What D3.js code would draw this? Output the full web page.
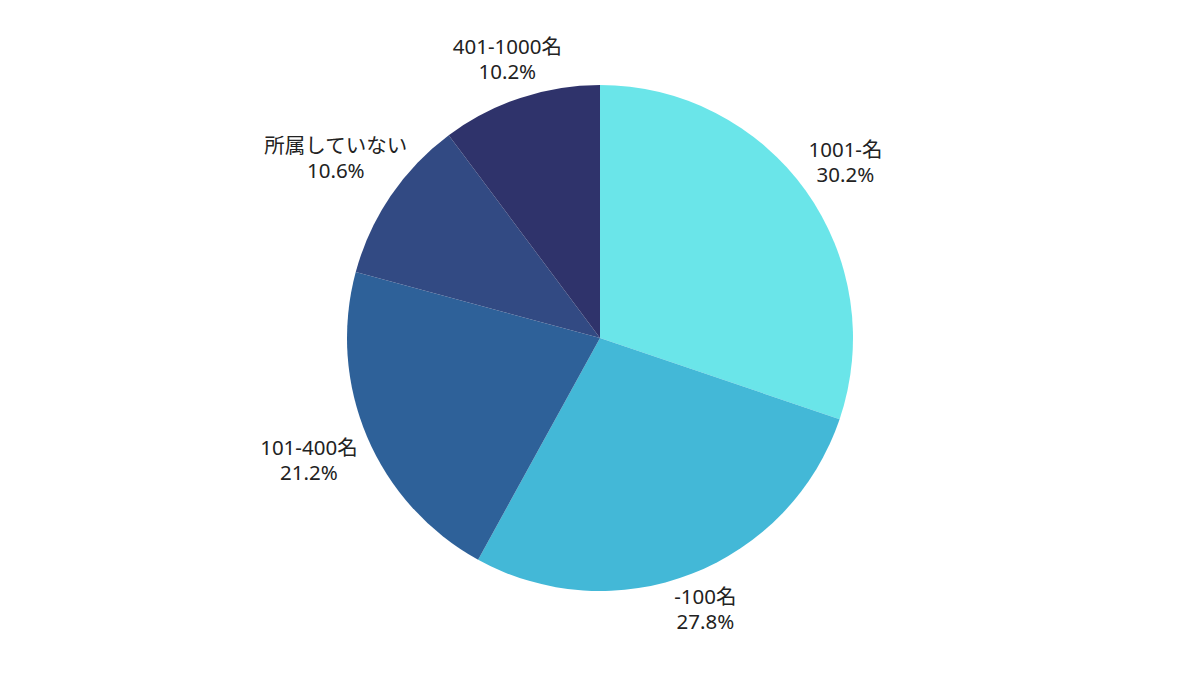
<!DOCTYPE html>
<html>
<head>
<meta charset="utf-8">
<script src="https://cdn.jsdelivr.net/npm/d3@7"></script>
<style>
  html, body { margin: 0; padding: 0; background: #ffffff; }
  svg { display: block; }
</style>
</head>
<body>
<svg id="pie-chart"></svg>
<script>
// Dados do gráfico (em sentido horário a partir do topo)
const categories = ["1001-名", "-100名", "101-400名", "所属していない", "401-1000名"];
const shares = [30.2, 27.8, 21.2, 10.6, 10.2];
const colors = ["#6ae5e9", "#43b8d7", "#2e6199", "#324a83", "#2f336b"];

const width = 1200;
const height = 675;
const cx = 600;
const cy = 338;
const radius = 253;
const labelRadius = 284;

const svg = d3.select("#pie-chart")
  .attr("width", width)
  .attr("height", height);

const data = categories.map((c, i) => ({ name: c, value: shares[i], color: colors[i] }));

const pie = d3.pie()
  .sort(null)
  .value(d => d.value);

const arc = d3.arc()
  .innerRadius(0)
  .outerRadius(radius);

const g = svg.append("g")
  .attr("transform", `translate(${cx},${cy})`);

const arcs = pie(data);

g.selectAll("path")
  .data(arcs)
  .enter()
  .append("path")
  .attr("d", arc)
  .attr("fill", d => d.data.color);

// Rótulos: nome + percentual
const labels = g.selectAll("g.label")
  .data(arcs)
  .enter()
  .append("g")
  .attr("class", "label");

labels.append("text")
  .attr("class", "name")
  .text(d => d.data.name);

labels.append("text")
  .attr("class", "pct")
  .text(d => d.data.value.toFixed(1) + "%");

labels.selectAll("text")
  .attr("text-anchor", "middle")
  .style("font-family", "'Noto Sans', 'Noto Sans CJK JP', sans-serif")
  .style("font-size", "20.5px")
  .attr("fill", "#222222");

labels.each(function(d) {
  const t = d3.select(this);
  const mid = (d.startAngle + d.endAngle) / 2;
  const hw = Math.max(
    t.select(".name").node().getComputedTextLength(),
    t.select(".pct").node().getComputedTextLength()
  ) / 2;
  // afasta mais os rótulos largos nas laterais
  const r = labelRadius + 0.6 * Math.abs(Math.sin(mid)) * hw;
  const x = r * Math.sin(mid) + (Math.sin(mid) < -0.9 ? -5 : 0);
  const y = -r * Math.cos(mid);
  t.select(".name").attr("x", x).attr("y", y - 5);
  t.select(".pct").attr("x", x).attr("y", y + 20);
});
</script>
</body>
</html>
